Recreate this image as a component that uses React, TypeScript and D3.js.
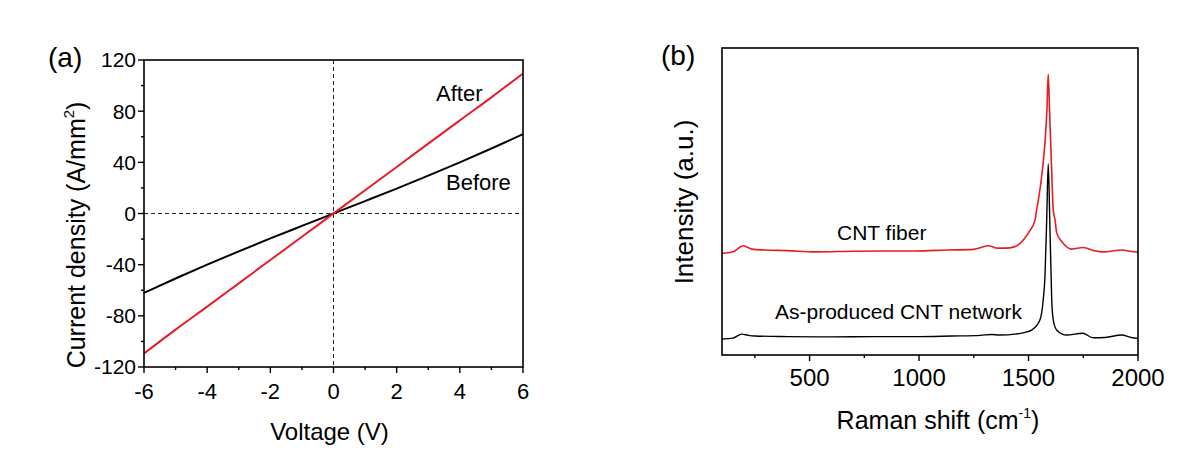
import { useEffect, useRef } from 'react';
import * as d3 from 'd3';

// panel (a): I-V curves
const voltage = [-6, -5, -4, -3, -2, -1, 0, 1, 2, 3, 4, 5, 6];
const beforeJ = [-62, -50.8, -40.0, -29.6, -19.5, -9.7, 0, 9.7, 19.5, 29.6, 40.0, 50.8, 62];
const afterJ = [-109.5, -90.8, -72.8, -54.6, -36.4, -18.2, 0, 18.2, 36.4, 54.6, 72.8, 90.8, 109.5];
const ivXTicks = [-6, -4, -2, 0, 2, 4, 6];
const ivYTicks = [-120, -80, -40, 0, 40, 80, 120];

// panel (b): Raman spectra (a.u.)
const fiberShift = [100, 150, 197, 236, 300, 400, 525, 700, 850, 981, 1132, 1250, 1316, 1360, 1393, 1438, 1465, 1499, 1530, 1537, 1545, 1565, 1575, 1584, 1590, 1596, 1605, 1613, 1621, 1629, 1657, 1697, 1750, 1800, 1841, 1925, 1970, 2000];
const fiberI = [33.1, 33.6, 35.6, 34.5, 34.2, 34.0, 33.6, 33.8, 33.9, 33.9, 34.2, 34.4, 35.6, 34.8, 34.8, 35.3, 36.6, 39.7, 44.0, 47.2, 50.5, 61.3, 69.1, 79.8, 91.5, 79.8, 61.6, 47.2, 44.0, 39.7, 36.5, 34.5, 35.0, 34.0, 33.6, 34.2, 33.7, 33.5];
const networkShift = [100, 150, 190, 220, 251, 400, 600, 800, 981, 1150, 1280, 1332, 1370, 1438, 1480, 1514, 1552, 1567, 1575, 1583, 1590, 1597, 1606, 1613, 1629, 1674, 1747, 1795, 1850, 1925, 1970, 2000];
const networkI = [5.2, 5.5, 6.8, 6.4, 6.2, 6.0, 5.9, 6.0, 6.0, 6.2, 6.4, 6.7, 6.5, 6.8, 7.3, 8.1, 11.4, 17.9, 25.5, 44.0, 62.2, 44.0, 17.9, 11.4, 8.1, 6.5, 7.1, 5.6, 5.7, 6.5, 5.7, 5.4];
const ramanTicks = [500, 1000, 1500, 2000];
const ramanMinor = [250, 750, 1250, 1750];

const FONT = 'Liberation Sans, Arial, sans-serif';
const RED = '#e81c24';

export default function App() {
  const svgRef = useRef<SVGSVGElement>(null);

  useEffect(() => {
    document.body.style.margin = '0';
    const svg = d3.select(svgRef.current);
    svg.selectAll('*').remove();

    // ---------- panel (a) ----------
    const a = { l: 144, r: 523, t: 60, b: 367 };
    const x = d3.scaleLinear().domain([-6, 6]).range([a.l, a.r]);
    const y = d3.scaleLinear().domain([-120, 120]).range([a.b, a.t]);
    const ga = svg.append('g');

    // dashed zero lines
    ga.append('line').attr('x1', x(0)).attr('x2', x(0)).attr('y1', a.t).attr('y2', a.b)
      .attr('stroke', '#222').attr('stroke-width', 1).attr('stroke-dasharray', '4,3');
    ga.append('line').attr('x1', a.l).attr('x2', a.r).attr('y1', y(0)).attr('y2', y(0))
      .attr('stroke', '#222').attr('stroke-width', 1).attr('stroke-dasharray', '4,3');

    const ivLine = d3.line<number>().x((_, i) => x(voltage[i])).y(d => y(d)).curve(d3.curveMonotoneX);
    ga.append('path').attr('d', ivLine(beforeJ)).attr('fill', 'none').attr('stroke', '#000').attr('stroke-width', 2);
    ga.append('path').attr('d', ivLine(afterJ)).attr('fill', 'none').attr('stroke', RED).attr('stroke-width', 2);

    ga.append('rect').attr('x', a.l).attr('y', a.t).attr('width', a.r - a.l).attr('height', a.b - a.t)
      .attr('fill', 'none').attr('stroke', '#000').attr('stroke-width', 1.6);

    d3.range(-6, 7, 1).forEach(v => {
      const major = v % 2 === 0;
      ga.append('line').attr('x1', x(v)).attr('x2', x(v)).attr('y1', a.b).attr('y2', a.b + (major ? 6 : 3))
        .attr('stroke', '#000').attr('stroke-width', 1.4);
    });
    d3.range(-120, 121, 20).forEach(v => {
      const major = v % 40 === 0;
      ga.append('line').attr('x1', a.l).attr('x2', a.l - (major ? 6 : 3)).attr('y1', y(v)).attr('y2', y(v))
        .attr('stroke', '#000').attr('stroke-width', 1.4);
    });

    ivXTicks.forEach(v => {
      ga.append('text').attr('x', x(v)).attr('y', a.b + 32).attr('text-anchor', 'middle')
        .attr('font-family', FONT).attr('font-size', 22).text(v);
    });
    ivYTicks.forEach(v => {
      ga.append('text').attr('x', a.l - 8).attr('y', y(v)).attr('dy', '0.35em').attr('text-anchor', 'end')
        .attr('font-family', FONT).attr('font-size', 21).text(v);
    });

    ga.append('text').attr('x', (a.l + a.r) / 2 - 4).attr('y', 440).attr('text-anchor', 'middle')
      .attr('font-family', FONT).attr('font-size', 24).text('Voltage (V)');
    const yt = ga.append('text').attr('transform', 'translate(85,235) rotate(-90)').attr('text-anchor', 'middle')
      .attr('font-family', FONT).attr('font-size', 25);
    yt.append('tspan').text('Current density (A/mm');
    yt.append('tspan').attr('dy', -11).attr('font-size', 15).text('2');
    yt.append('tspan').attr('dy', 11).text(')');

    ga.append('text').attr('x', 48).attr('y', 67).attr('font-family', FONT).attr('font-size', 28).text('(a)');
    ga.append('text').attr('x', 436).attr('y', 101).attr('font-family', FONT).attr('font-size', 22).text('After');
    ga.append('text').attr('x', 446).attr('y', 190).attr('font-family', FONT).attr('font-size', 22).text('Before');

    // ---------- panel (b) ----------
    const b = { l: 722, r: 1138, t: 48, b: 355 };
    const xr = d3.scaleLinear().domain([100, 2000]).range([b.l, b.r]);
    const yr = d3.scaleLinear().domain([0, 100]).range([b.b, b.t]);
    const gb = svg.append('g');

    const fiberLine = d3.line<number>().x((_, i) => xr(fiberShift[i])).y(d => yr(d)).curve(d3.curveMonotoneX);
    const netLine = d3.line<number>().x((_, i) => xr(networkShift[i])).y(d => yr(d)).curve(d3.curveMonotoneX);
    gb.append('path').attr('d', netLine(networkI)).attr('fill', 'none').attr('stroke', '#000').attr('stroke-width', 1.4);
    gb.append('path').attr('d', fiberLine(fiberI)).attr('fill', 'none').attr('stroke', RED).attr('stroke-width', 1.6);

    gb.append('rect').attr('x', b.l).attr('y', b.t).attr('width', b.r - b.l).attr('height', b.b - b.t)
      .attr('fill', 'none').attr('stroke', '#000').attr('stroke-width', 1.6);

    ramanTicks.forEach(v => {
      gb.append('line').attr('x1', xr(v)).attr('x2', xr(v)).attr('y1', b.b).attr('y2', b.b + 6)
        .attr('stroke', '#000').attr('stroke-width', 1.4);
      gb.append('text').attr('x', xr(v)).attr('y', 386).attr('text-anchor', 'middle')
        .attr('font-family', FONT).attr('font-size', 24).text(v);
    });
    ramanMinor.forEach(v => {
      gb.append('line').attr('x1', xr(v)).attr('x2', xr(v)).attr('y1', b.b).attr('y2', b.b + 3)
        .attr('stroke', '#000').attr('stroke-width', 1.4);
    });

    const xt = gb.append('text').attr('x', (b.l + b.r) / 2 + 8).attr('y', 429).attr('text-anchor', 'middle')
      .attr('font-family', FONT).attr('font-size', 25);
    xt.append('tspan').text('Raman shift (cm');
    xt.append('tspan').attr('dy', -11).attr('font-size', 14).text('-1');
    xt.append('tspan').attr('dy', 11).text(')');

    gb.append('text').attr('transform', 'translate(693,202) rotate(-90)').attr('text-anchor', 'middle')
      .attr('font-family', FONT).attr('font-size', 26).text('Intensity (a.u.)');

    gb.append('text').attr('x', 661).attr('y', 65).attr('font-family', FONT).attr('font-size', 28).text('(b)');
    gb.append('text').attr('x', 837).attr('y', 240).attr('font-family', FONT).attr('font-size', 21).text('CNT fiber');
    gb.append('text').attr('x', 775).attr('y', 319).attr('font-family', FONT).attr('font-size', 21).text('As-produced CNT network');
  }, []);

  return <svg ref={svgRef} width={1200} height={470} style={{ display: 'block', background: '#fff' }} />;
}
